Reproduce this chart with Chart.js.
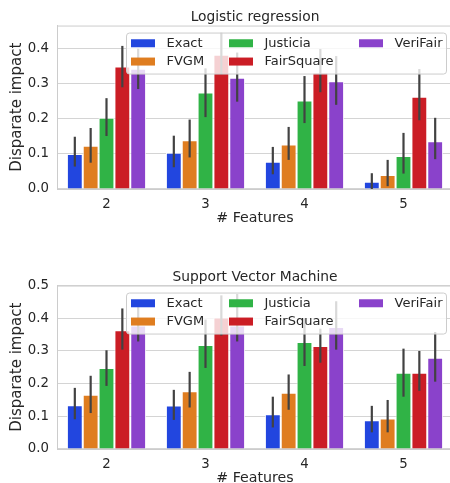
<!DOCTYPE html>
<html>
<head>
<meta charset="utf-8">
<script src="https://cdn.jsdelivr.net/npm/chart.js@4"></script>
<style>
  html, body { margin: 0; padding: 0; background: #fff; width: 450px; height: 483px; overflow: hidden; }
  canvas { position: absolute; left: 0; }
  #chart-lr { top: 0; }
  #chart-svm { top: 260px; }
</style>
</head>
<body>
<canvas id="chart-lr" width="453" height="233"></canvas>
<canvas id="chart-svm" width="453" height="233"></canvas>
<script>
// categories and series
const features = ["2", "3", "4", "5"];
const methods = ["Exact", "FVGM", "Justicia", "FairSquare", "VeriFair"];
const colors = ["#2246df", "#df7d20", "#30b346", "#cb1d25", "#8a42cb"];

// rows follow `methods`, columns follow `features`
const lrMean = [
  [0.100, 0.103, 0.078, 0.021],
  [0.123, 0.139, 0.127, 0.040],
  [0.203, 0.275, 0.252, 0.094],
  [0.349, 0.383, 0.332, 0.263],
  [0.343, 0.317, 0.307, 0.136],
];
const lrLow = [
  [0.064, 0.062, 0.042, 0.000],
  [0.075, 0.090, 0.083, 0.008],
  [0.151, 0.205, 0.188, 0.044],
  [0.290, 0.327, 0.276, 0.196],
  [0.285, 0.249, 0.240, 0.085],
];
const lrHigh = [
  [0.149, 0.152, 0.120, 0.045],
  [0.174, 0.198, 0.177, 0.083],
  [0.259, 0.344, 0.322, 0.160],
  [0.408, 0.445, 0.399, 0.342],
  [0.400, 0.389, 0.379, 0.203],
];

const svmMean = [
  [0.134, 0.133, 0.106, 0.088],
  [0.166, 0.177, 0.172, 0.093],
  [0.248, 0.318, 0.327, 0.233],
  [0.363, 0.402, 0.315, 0.233],
  [0.378, 0.378, 0.373, 0.279],
];
const svmLow = [
  [0.091, 0.089, 0.066, 0.051],
  [0.110, 0.127, 0.120, 0.051],
  [0.193, 0.248, 0.254, 0.160],
  [0.304, 0.347, 0.264, 0.178],
  [0.329, 0.329, 0.304, 0.206],
];
const svmHigh = [
  [0.187, 0.181, 0.160, 0.132],
  [0.224, 0.236, 0.228, 0.150],
  [0.302, 0.396, 0.400, 0.307],
  [0.430, 0.470, 0.368, 0.300],
  [0.440, 0.474, 0.452, 0.358],
];

Chart.defaults.font.family = "'DejaVu Sans', sans-serif";
Chart.defaults.color = "#262626";

// top spine, like the seaborn frame
const frame = {
  id: "frame",
  beforeDatasetsDraw(chart) {
    const { ctx, chartArea: a } = chart;
    ctx.save();
    ctx.strokeStyle = "#cccccc";
    ctx.lineWidth = 1;
    ctx.beginPath();
    ctx.moveTo(a.left, a.top + 0.5);
    ctx.lineTo(a.right, a.top + 0.5);
    ctx.stroke();
    ctx.restore();
  },
};

const errorBars = {
  id: "errorBars",
  afterDatasetsDraw(chart) {
    const { ctx } = chart;
    const y = chart.scales.y;
    ctx.save();
    ctx.strokeStyle = "#424242";
    ctx.lineWidth = 2.2;
    chart.data.datasets.forEach((ds, i) => {
      chart.getDatasetMeta(i).data.forEach((bar, j) => {
        ctx.beginPath();
        ctx.moveTo(bar.x, y.getPixelForValue(ds.errLow[j]));
        ctx.lineTo(bar.x, y.getPixelForValue(ds.errHigh[j]));
        ctx.stroke();
      });
    });
    ctx.restore();
  },
};

// matplotlib-style legend: 3 columns filled top to bottom, drawn over the bars
const boxLegend = {
  id: "boxLegend",
  afterDraw(chart) {
    const { ctx, chartArea: a } = chart;
    const x0 = a.left + 69, y0 = a.top + 7, w = 320, h = 41;
    ctx.save();
    ctx.fillStyle = "rgba(255,255,255,0.8)";
    ctx.strokeStyle = "#cccccc";
    ctx.lineWidth = 1;
    ctx.beginPath();
    ctx.roundRect(x0 + 0.5, y0 + 0.5, w, h, 3);
    ctx.fill();
    ctx.stroke();
    ctx.font = "13px 'DejaVu Sans'";
    ctx.textBaseline = "middle";
    const colX = [5, 103, 233], rowY = [10.7, 29];
    chart.data.datasets.forEach((ds, i) => {
      const cx = x0 + colX[Math.floor(i / 2)], cy = y0 + rowY[i % 2];
      ctx.fillStyle = ds.backgroundColor;
      ctx.fillRect(cx, cy - 4, 24, 8);
      ctx.fillStyle = "#262626";
      ctx.fillText(ds.label, cx + 35.5, cy + 0.5);
    });
    ctx.restore();
  },
};

function makeChart(id, title, mean, low, high, yMax) {
  return new Chart(document.getElementById(id), {
    type: "bar",
    data: {
      labels: features,
      datasets: methods.map((m, i) => ({
        label: m,
        data: mean[i],
        errLow: low[i],
        errHigh: high[i],
        backgroundColor: colors[i],
        borderColor: "rgba(255,255,255,0.9)",
        borderWidth: 1,
        categoryPercentage: 0.8,
        barPercentage: 1.0,
      })),
    },
    options: {
      responsive: false,
      animation: false,
      layout: { padding: 0 },
      plugins: {
        legend: { display: false },
        tooltip: { enabled: false },
        title: {
          display: true,
          text: title,
          fullSize: false,
          color: "#262626",
          font: { size: 13.8, weight: "normal" },
          padding: { top: 9, bottom: 0 },
        },
      },
      scales: {
        x: {
          grid: { display: false, drawTicks: false },
          border: { color: "#cccccc", width: 1 },
          ticks: { padding: 7.5, font: { size: 13.3 }, color: "#262626" },
          title: { display: true, text: "# Features", font: { size: 14.2 }, color: "#262626", padding: { top: 0, bottom: 6 } },
          afterFit: (s) => { s.height = 44; },
        },
        y: {
          min: 0,
          max: yMax,
          grid: { color: "#d4d4d4", lineWidth: 1.1, drawTicks: false },
          border: { color: "#cccccc", width: 1 },
          ticks: {
            stepSize: 0.1,
            includeBounds: false,
            padding: 8,
            font: { size: 13.3 },
            color: "#262626",
            callback: (v) => v.toFixed(1),
          },
          title: { display: true, text: "Disparate impact", font: { size: 15 }, color: "#262626", padding: { top: 8, bottom: 0 } },
          afterFit: (s) => { s.width = 57; },
        },
      },
    },
    plugins: [frame, errorBars, boxLegend],
  });
}

makeChart("chart-lr", "Logistic regression", lrMean, lrLow, lrHigh, 0.466);
makeChart("chart-svm", "Support Vector Machine", svmMean, svmLow, svmHigh, 0.5);
</script>
</body>
</html>
